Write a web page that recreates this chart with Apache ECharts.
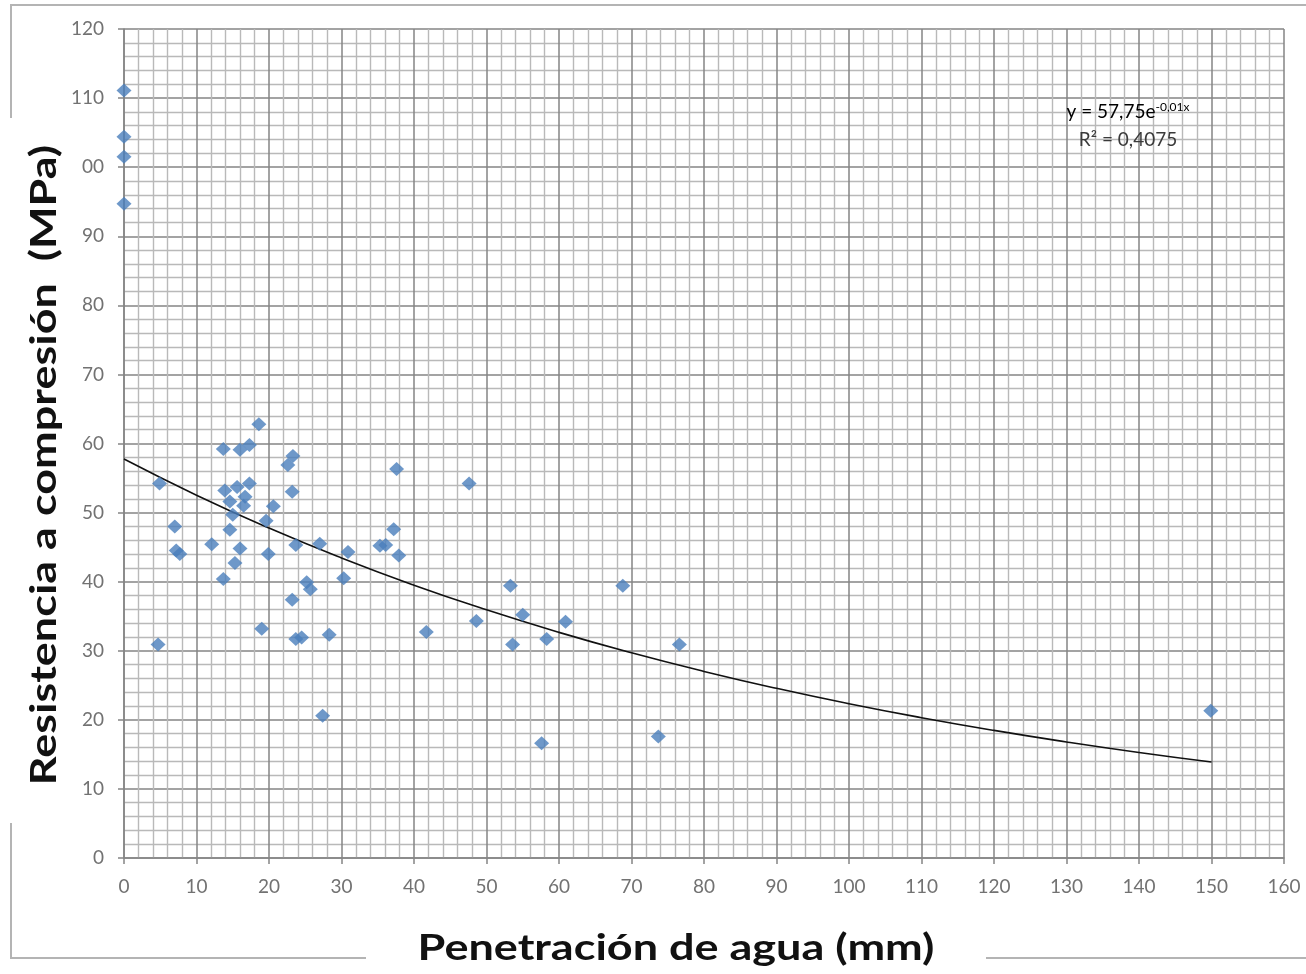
<!DOCTYPE html>
<html>
<head>
<meta charset="utf-8">
<script src="https://cdn.jsdelivr.net/npm/echarts@6/dist/echarts.min.js"></script>
<style>
html,body{margin:0;padding:0;background:#fff;}
#chart{width:1306px;height:974px;}
</style>
</head>
<body>
<div id="chart"></div>
<script>
// ---- data ----
const penetracion = [0,0,0,0,4.7,4.9,7.0,7.2,7.7,12.1,13.7,13.7,13.9,14.6,14.6,15.0,15.3,15.6,16.0,16.0,16.5,16.7,17.3,17.3,18.6,19.0,19.6,19.9,20.6,22.6,23.3,23.2,23.2,23.7,23.7,24.5,25.2,25.7,27.0,27.4,28.3,30.3,30.9,35.3,36.1,37.2,37.6,37.9,41.7,47.6,48.6,53.3,53.6,55.0,57.6,58.3,60.9,68.8,73.7,76.6,149.9];
const resistencia = [111.1,104.4,101.5,94.7,30.9,54.2,48.0,44.5,44.0,45.4,59.2,40.4,53.2,51.6,47.5,49.7,42.7,53.7,59.1,44.8,51.0,52.3,59.8,54.2,62.8,33.2,48.8,44.0,50.9,56.9,58.2,53.0,37.4,45.3,31.7,31.9,39.9,38.9,45.5,20.6,32.3,40.5,44.3,45.2,45.3,47.6,56.3,43.8,32.7,54.2,34.3,39.4,30.9,35.2,16.6,31.7,34.2,39.4,17.6,30.9,21.3];
const trendX = [0,10,20,30,40,50,60,70,80,90,100,110,120,130,140,150];
const trendY = [57.75,52.52,47.76,43.43,39.49,35.92,32.66,29.70,27.01,24.56,22.33,20.31,18.47,16.80,15.27,13.89];
const xTickLabels = ['0','10','20','30','40','50','60','70','80','90','100','110','120','130','140','150','160'];
const yTickLabels = ['0','10','20','30','40','50','60','70','80','90','00','110','120'];
const xTitle = 'Penetración de agua (mm)';
const yTitle = 'Resistencia a compresión  (MPa)';
const eqLine1 = 'y = 57,75e';
const eqExp = '-0,01x';
const eqLine2 = 'R² = 0,4075';

const scatterData = penetracion.map((x, i) => [x, resistencia[i]]);
const trendData = trendX.map((x, i) => [x, trendY[i]]);

const chart = echarts.init(document.getElementById('chart'), null, {renderer: 'canvas'});
const labelFont = 'Lato, "Open Sans", sans-serif';
const frameColor = '#b4b4b4';
const majorColor = '#858585';
const minorColor = '#b9b9b9';

function axisCommon() {
  return {
    type: 'value', interval: 10,
    axisLine: {show: true, onZero: false, lineStyle: {color: majorColor, width: 1.5}},
    axisTick: {show: true, length: 6, lineStyle: {color: majorColor, width: 1.5}},
    minorTick: {show: false, splitNumber: 5},
    splitLine: {show: true, lineStyle: {color: majorColor, width: 1.5}},
    minorSplitLine: {show: true, lineStyle: {color: minorColor, width: 1.4}}
  };
}

chart.setOption({
  animation: false,
  backgroundColor: '#fff',
  grid: {left: 124, right: 22, top: 29, bottom: 116, containLabel: false},
  xAxis: Object.assign(axisCommon(), {
    min: 0, max: 160,
    axisLabel: {
      margin: 19, color: '#727272', fontSize: 19, fontFamily: labelFont,
      formatter: (v) => xTickLabels[Math.round(v / 10)]
    }
  }),
  yAxis: Object.assign(axisCommon(), {
    min: 0, max: 120,
    axisLabel: {
      margin: 20, color: '#727272', fontSize: 19, fontFamily: labelFont,
      formatter: (v) => yTickLabels[Math.round(v / 10)]
    }
  }),
  series: [
    {
      type: 'line', data: trendData, smooth: true, showSymbol: false, symbol: 'none',
      lineStyle: {color: '#111', width: 1.6}, z: 3, silent: true
    },
    {
      type: 'scatter', data: scatterData, symbol: 'diamond', symbolSize: [15, 14],
      itemStyle: {color: '#4a7ebb'}, z: 4
    }
  ],
  graphic: [
    // outer chart frame (interrupted by the axis titles)
    {type: 'polyline', silent: true, shape: {points: [[11, 118], [11, 5], [1306, 5]]}, style: {stroke: frameColor, lineWidth: 2, fill: null}},
    {type: 'polyline', silent: true, shape: {points: [[11, 823], [11, 958], [366, 958]]}, style: {stroke: frameColor, lineWidth: 2, fill: null}},
    {type: 'polyline', silent: true, shape: {points: [[986, 958], [1306, 958]]}, style: {stroke: frameColor, lineWidth: 2, fill: null}},
    // axis titles
    {
      type: 'text', silent: true, x: 676, y: 948, scaleX: 1.25,
      style: {text: xTitle, font: 'bold 36px Lato, "Open Sans", sans-serif', fill: '#111', align: 'center', verticalAlign: 'middle'}
    },
    {
      type: 'text', silent: true, x: 44, y: 465, rotation: Math.PI / 2, scaleX: 1.25,
      style: {text: yTitle, font: 'bold 36px Lato, "Open Sans", sans-serif', fill: '#111', align: 'center', verticalAlign: 'middle'}
    },
    // trendline equation
    {
      type: 'text', silent: true, x: 1128, y: 112, z: 10,
      style: {
        text: '{b|' + eqLine1 + '}{s|' + eqExp + '}',
        align: 'center', verticalAlign: 'middle',
        rich: {
          b: {fontSize: 19, fontFamily: labelFont, color: '#3a3a3a'},
          s: {fontSize: 12, fontFamily: labelFont, color: '#3a3a3a', verticalAlign: 'top', padding: [0, 0, 9, 0]}
        }
      }
    },
    {
      type: 'text', silent: true, x: 1128, y: 140, z: 10,
      style: {text: eqLine2, font: '19px Lato, "Open Sans", sans-serif', fill: '#3a3a3a', align: 'center', verticalAlign: 'middle'}
    }
  ]
});
</script>
</body>
</html>
